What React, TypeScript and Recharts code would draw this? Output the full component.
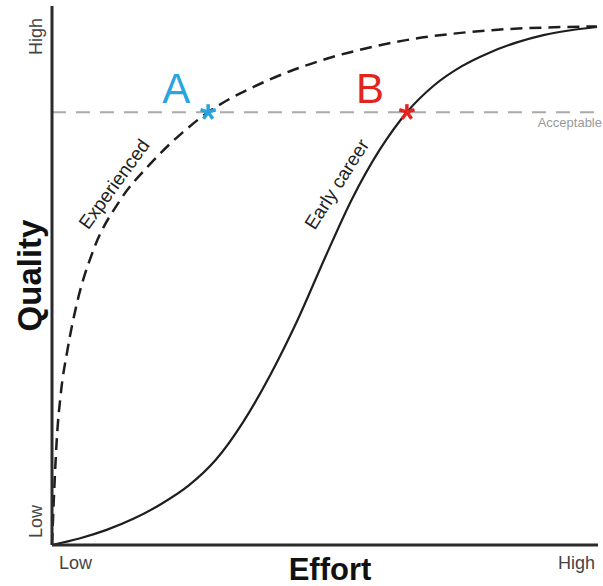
import React from "react";
import {
  LineChart,
  Line,
  XAxis,
  YAxis,
  ReferenceLine,
  ReferenceDot,
} from "recharts";

// effort (0 = low, 100 = high) vs quality (0 = low, 100 = high)
const experienced = [
  { x: 0, y: 0 },
  { x: 0.4, y: 10 },
  { x: 0.9, y: 20 },
  { x: 1.6, y: 28 },
  { x: 2.8, y: 36 },
  { x: 4.6, y: 45 },
  { x: 7.5, y: 54.5 },
  { x: 12.5, y: 64 },
  { x: 17.9, y: 70.6 },
  { x: 24, y: 76.6 },
  { x: 28.6, y: 80.3 },
  { x: 32.6, y: 82.8 },
  { x: 36.3, y: 84.7 },
  { x: 43.6, y: 87.9 },
  { x: 50.9, y: 90.4 },
  { x: 58.2, y: 92.3 },
  { x: 65.6, y: 93.8 },
  { x: 72.9, y: 94.8 },
  { x: 80.2, y: 95.5 },
  { x: 90, y: 96 },
  { x: 99.8, y: 96.2 },
];

const earlyCareer = [
  { x: 0, y: 0 },
  { x: 5, y: 1.2 },
  { x: 10, y: 2.8 },
  { x: 15, y: 4.9 },
  { x: 20, y: 7.6 },
  { x: 25, y: 11 },
  { x: 30, y: 15.8 },
  { x: 35, y: 22.8 },
  { x: 40, y: 31.6 },
  { x: 45, y: 41.8 },
  { x: 50, y: 53.3 },
  { x: 55, y: 64.3 },
  { x: 60, y: 73.3 },
  { x: 65, y: 80.3 },
  { x: 70, y: 85.3 },
  { x: 75, y: 88.8 },
  { x: 80, y: 91.3 },
  { x: 85, y: 93.2 },
  { x: 90, y: 94.6 },
  { x: 95, y: 95.5 },
  { x: 99.8, y: 96.1 },
];

const acceptable = 80.3;
const axisTicks = [0, 100];
const tickNames: Record<number, string> = { 0: "Low", 100: "High" };

const markers = [
  { name: "A", x: 28.6, y: 80.3 },
  { name: "B", x: 65, y: 80.3 },
];
const markerColors: Record<string, string> = { A: "#29a4de", B: "#e3241d" };

const curveLabels = [
  { text: "Experienced", x: 11.6, y: 66.8, angle: -54 },
  { text: "Early career", x: 52.4, y: 66.8, angle: -57.5 },
];

const FONT = "'Liberation Sans', Arial, sans-serif";

const YTick = (props: any) => {
  const { y, payload } = props;
  const low = payload.value === 0;
  const tx = 42;
  const ty = low ? y - 7 : y + 9;
  return (
    <text
      x={tx}
      y={ty}
      transform={`rotate(-90 ${tx} ${ty})`}
      textAnchor={low ? "start" : "end"}
      fontSize={18}
      fontFamily={FONT}
      fill="#444"
    >
      {tickNames[payload.value]}
    </text>
  );
};

const XTick = (props: any) => {
  const { x, payload } = props;
  const low = payload.value === 0;
  return (
    <text
      x={low ? x + 7 : x + 4}
      y={569}
      textAnchor={low ? "start" : "end"}
      fontSize={18}
      fontFamily={FONT}
      fill="#444"
    >
      {tickNames[payload.value]}
    </text>
  );
};

const Asterisk = (props: any) => {
  const { cx, cy, name } = props;
  const color = markerColors[name];
  const arms = [-90, -18, 54, 126, 198];
  const len = 8;
  return (
    <g>
      {arms.map((a) => (
        <line
          key={a}
          x1={cx}
          y1={cy}
          x2={cx + len * Math.cos((a * Math.PI) / 180)}
          y2={cy + len * Math.sin((a * Math.PI) / 180)}
          stroke={color}
          strokeWidth={3.5}
        />
      ))}
      <text
        x={cx - (name === "A" ? 32 : 37)}
        y={cy - 9}
        textAnchor="middle"
        fontSize={42}
        fontFamily={FONT}
        fill={color}
      >
        {name}
      </text>
    </g>
  );
};

const CurveLabel = (props: any) => {
  const { cx, cy, text, angle } = props;
  return (
    <text
      x={cx}
      y={cy}
      transform={`rotate(${angle} ${cx} ${cy})`}
      textAnchor="middle"
      dominantBaseline="middle"
      fontSize={19}
      fontFamily={FONT}
      fill="#222"
    >
      {text}
    </text>
  );
};

export default function App() {
  return (
    <div style={{ position: "absolute", left: 0, top: 0, background: "#fff" }}>
      <LineChart
        width={603}
        height={586}
        margin={{ top: 6, right: 5, left: 0, bottom: 0 }}
      >
        <XAxis
          dataKey="x"
          type="number"
          domain={[0, 100]}
          ticks={axisTicks}
          height={41}
          tickLine={false}
          axisLine={{ stroke: "#2b2b2b", strokeWidth: 3 }}
          tick={<XTick />}
          label={{
            content: (p: any) => (
              <text
                x={p.viewBox.x + p.viewBox.width / 2 + 5}
                y={580}
                textAnchor="middle"
                fontSize={31}
                fontWeight="bold"
                fontFamily={FONT}
                fill="#111"
              >
                Effort
              </text>
            ),
          }}
        />
        <YAxis
          type="number"
          domain={[0, 100]}
          ticks={axisTicks}
          width={52}
          tickLine={false}
          axisLine={{ stroke: "#2b2b2b", strokeWidth: 3 }}
          tick={<YTick />}
          label={{
            content: (p: any) => {
              const cx = 41;
              const cy = p.viewBox.y + p.viewBox.height / 2;
              return (
                <text
                  x={cx}
                  y={cy}
                  transform={`rotate(-90 ${cx} ${cy})`}
                  textAnchor="middle"
                  fontSize={33}
                  fontWeight="bold"
                  fontFamily={FONT}
                  fill="#111"
                >
                  Quality
                </text>
              );
            },
          }}
        />
        <ReferenceLine
          y={acceptable}
          stroke="#aaaaaa"
          strokeWidth={2}
          strokeDasharray="14 10"
          label={{
            content: (p: any) => (
              <text
                x={p.viewBox.x + p.viewBox.width + 4}
                y={p.viewBox.y + 15}
                textAnchor="end"
                fontSize={13}
                fontFamily={FONT}
                fill="#9a9a9a"
              >
                Acceptable
              </text>
            ),
          }}
        />
        <Line
          data={experienced}
          dataKey="y"
          type="monotone"
          stroke="#1e1e1e"
          strokeWidth={2.5}
          strokeDasharray="12 7"
          dot={false}
          isAnimationActive={false}
        />
        <Line
          data={earlyCareer}
          dataKey="y"
          type="monotone"
          stroke="#1e1e1e"
          strokeWidth={2.2}
          dot={false}
          isAnimationActive={false}
        />
        {curveLabels.map((l) => (
          <ReferenceDot
            key={l.text}
            x={l.x}
            y={l.y}
            r={0}
            shape={(p: any) => <CurveLabel {...p} text={l.text} angle={l.angle} />}
          />
        ))}
        {markers.map((m) => (
          <ReferenceDot
            key={m.name}
            x={m.x}
            y={m.y}
            r={8}
            shape={(p: any) => <Asterisk {...p} name={m.name} />}
          />
        ))}
      </LineChart>
    </div>
  );
}
